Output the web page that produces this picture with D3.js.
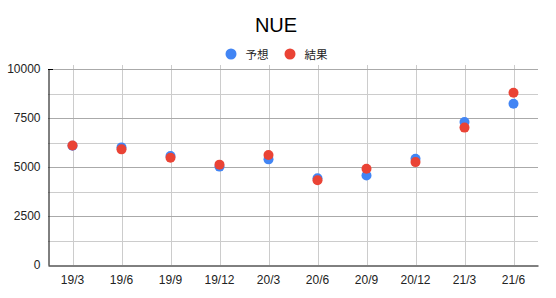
<!DOCTYPE html>
<html>
<head>
<meta charset="utf-8">
<script src="https://cdn.jsdelivr.net/npm/d3@7"></script>
<style>
  body { margin: 0; background: #fff; }
  text { font-family: Arial, "Liberation Sans", "Noto Sans CJK JP", sans-serif; }
</style>
</head>
<body>
<svg id="chart" width="556" height="298"></svg>
<script>
const categories = ["19/3", "19/6", "19/9", "19/12", "20/3", "20/6", "20/9", "20/12", "21/3", "21/6"];
const forecast = [6080, 6000, 5560, 5020, 5390, 4420, 4570, 5420, 7300, 8230];
const actual = [6100, 5900, 5470, 5120, 5610, 4320, 4910, 5250, 7010, 8790];
const yTicks = [0, 2500, 5000, 7500, 10000];
const yMinor = [1250, 3750, 6250, 8750];
const seriesNames = ["予想", "結果"];
const seriesColors = ["#4285f4", "#ea4335"];

const margin = { top: 69, right: 18, bottom: 33, left: 48 };
const W = 556, H = 298;

const svg = d3.select("#chart");

const x = d3.scaleBand()
    .domain(categories)
    .range([margin.left, W - margin.right]);

const y = d3.scaleLinear()
    .domain([0, 10000])
    .range([H - margin.bottom, margin.top]);

// title
svg.append("text")
    .attr("x", 276)
    .attr("y", 32)
    .attr("text-anchor", "middle")
    .style("font-size", "20px")
    .attr("fill", "#000")
    .text("NUE");

// legend
const legend = svg.append("g");
const legendX = [231, 290];
seriesNames.forEach((name, i) => {
    legend.append("circle")
        .attr("cx", legendX[i])
        .attr("cy", 54)
        .attr("r", 5.5)
        .attr("fill", seriesColors[i]);
    legend.append("text")
        .attr("x", legendX[i] + 14.5)
        .attr("y", 58.5)
        .style("font-size", "11.5px")
        .attr("fill", "#222")
        .text(name);
});

// minor gridlines
svg.append("g").selectAll("line")
    .data(yMinor)
    .join("line")
    .attr("x1", margin.left).attr("x2", W - margin.right)
    .attr("y1", d => Math.round(y(d)) + 0.5).attr("y2", d => Math.round(y(d)) + 0.5)
    .attr("stroke", "#cccccc");

// vertical gridlines
svg.append("g").selectAll("line")
    .data(categories)
    .join("line")
    .attr("x1", d => Math.round(x(d) + x.bandwidth() / 2) + 0.5)
    .attr("x2", d => Math.round(x(d) + x.bandwidth() / 2) + 0.5)
    .attr("y1", margin.top - 4)
    .attr("y2", H - margin.bottom)
    .attr("stroke", "#cccccc");

// major gridlines
svg.append("g").selectAll("line")
    .data(yTicks.filter(d => d > 0))
    .join("line")
    .attr("x1", margin.left).attr("x2", W - margin.right)
    .attr("y1", d => Math.round(y(d)) + 0.5).attr("y2", d => Math.round(y(d)) + 0.5)
    .attr("stroke", "#aaaaaa");

// y axis
const yAxis = svg.append("g")
    .attr("transform", `translate(${margin.left + 0.5},0)`)
    .call(d3.axisLeft(y).tickValues(yTicks).tickSize(0).tickPadding(8).tickFormat(d3.format("d")));
yAxis.select(".domain").attr("stroke", "#000");
yAxis.selectAll("text").style("font-size", "12px").attr("fill", "#222");

// top tick
svg.append("line")
    .attr("x1", margin.left).attr("x2", margin.left + 5)
    .attr("y1", Math.round(y(10000)) + 0.5).attr("y2", Math.round(y(10000)) + 0.5)
    .attr("stroke", "#000");

// x axis
const xAxis = svg.append("g")
    .attr("transform", `translate(0,${Math.round(y(0)) + 0.5})`)
    .call(d3.axisBottom(x).tickSize(0).tickPadding(10));
xAxis.select(".domain").attr("stroke", "#000");
xAxis.selectAll("text").style("font-size", "12px").attr("fill", "#222");

// points
[forecast, actual].forEach((vals, i) => {
    svg.append("g").selectAll("circle")
        .data(vals)
        .join("circle")
        .attr("cx", (d, j) => x(categories[j]) + x.bandwidth() / 2)
        .attr("cy", d => y(d))
        .attr("r", 5)
        .attr("fill", seriesColors[i]);
});
</script>
</body>
</html>
